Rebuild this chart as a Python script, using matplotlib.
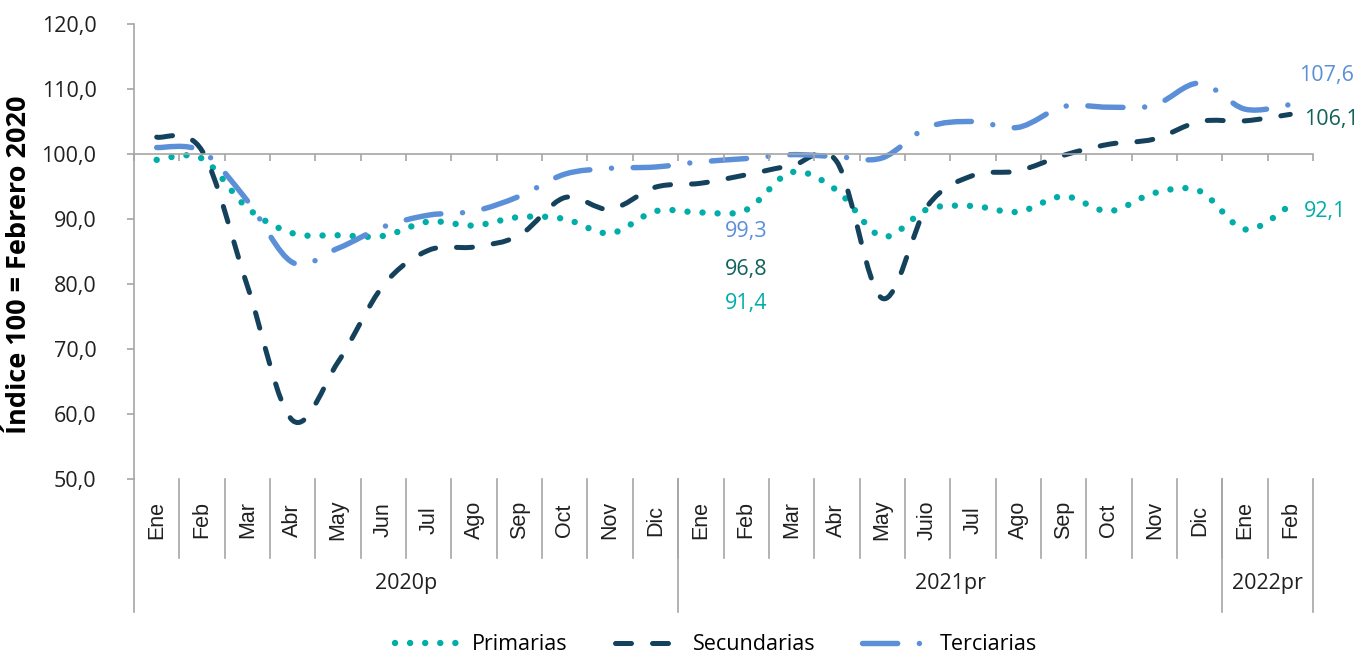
import numpy as np
import matplotlib
matplotlib.use('Agg')
import matplotlib.pyplot as plt
from matplotlib.path import Path
from matplotlib.patches import PathPatch
from matplotlib.lines import Line2D
import matplotlib.transforms as mtransforms

plt.rcParams['font.family'] = ['Open Sans', 'DejaVu Sans']

months = ['Ene', 'Feb', 'Mar', 'Abr', 'May', 'Jun', 'Jul', 'Ago', 'Sep', 'Oct', 'Nov', 'Dic',
          'Ene', 'Feb', 'Mar', 'Abr', 'May', 'Juio', 'Jul', 'Ago', 'Sep', 'Oct', 'Nov', 'Dic',
          'Ene', 'Feb']
years = ['2020p', '2021pr', '2022pr']
year_sizes = [12, 12, 2]

primarias = [99.1, 99.3, 91.7, 87.8, 87.5, 87.4, 89.6, 89.0, 90.3, 90.0, 87.8, 91.2,
             91.0, 91.4, 97.2, 94.4, 87.3, 91.5, 92.0, 91.1, 93.5, 91.2, 94.0, 94.3,
             88.4, 92.1]
secundarias = [102.6, 100.5, 79.7, 59.0, 68.0, 79.8, 85.2, 85.7, 87.5, 93.3, 91.5, 94.9,
               95.5, 96.8, 98.2, 98.8, 77.8, 92.0, 96.7, 97.4, 99.8, 101.5, 102.3, 105.0,
               105.1, 106.1]
terciarias = [101.0, 100.4, 92.8, 83.3, 85.5, 88.8, 90.6, 91.2, 93.5, 96.9, 97.8, 98.0,
              98.8, 99.3, 99.9, 99.6, 99.4, 104.1, 105.0, 104.1, 107.3, 107.2, 107.5, 110.9,
              106.9, 107.6]

c_prim = '#00ADA9'
c_sec = '#14425C'
c_ter = '#5B8FD8'
c_sec_lbl = '#11615D'
gray = '#A6A6A6'


def smooth_path(xs, ys):
    # bezier segments like excel's smoothed line
    pts = np.column_stack([xs, ys]).astype(float)
    n = len(pts)
    verts = [pts[0]]
    codes = [Path.MOVETO]
    for i in range(n - 1):
        p0 = pts[i - 1] if i > 0 else pts[i]
        p1 = pts[i]
        p2 = pts[i + 1]
        p3 = pts[i + 2] if i + 2 < n else pts[i + 1]
        verts += [p1 + (p2 - p0) / 6, p2 - (p3 - p1) / 6, p2]
        codes += [Path.CURVE4] * 3
    return Path(verts, codes)


fig = plt.figure(figsize=(13.61, 6.57), dpi=100)
ax = fig.add_axes([134 / 1361, 1 - 479 / 657, (1313 - 134) / 1361, (479 - 24) / 657])

x = np.arange(len(months))
styles = [
    (primarias, c_prim, 4.6, (0, (0.01, 2.35)), 'Primarias'),
    (secundarias, c_sec, 3.6, (0, (3.2, 4.2)), 'Secundarias'),
    (terciarias, c_ter, 3.9, (0, (6.5, 4.0, 0.01, 4.0)), 'Terciarias'),
]
handles = []
for vals, col, lw, ls, name in styles:
    p = PathPatch(smooth_path(x, vals), fill=False, edgecolor=col, lw=lw,
                  linestyle=ls, capstyle='round', joinstyle='round')
    ax.add_patch(p)
    h = Line2D([], [], color=col, lw=lw, linestyle=ls, dash_capstyle='round', label=name)
    handles.append(h)

ax.set_xlim(-0.5, len(months) - 0.5)
ax.set_ylim(50, 120)
ax.set_yticks(np.arange(50, 121, 10))
ax.set_yticklabels([f'{v:.1f}'.replace('.', ',') for v in np.arange(50, 121, 10)],
                   fontsize=15.5, color='#202020')
ax.tick_params(axis='y', length=5, width=1.2, color=gray, pad=22)

for s in ['top', 'right']:
    ax.spines[s].set_visible(False)
ax.spines['left'].set_color(gray)
ax.spines['left'].set_linewidth(1.2)
ax.spines['bottom'].set_position(('data', 100))
ax.spines['bottom'].set_color(gray)
ax.spines['bottom'].set_linewidth(1.2)
ax.set_xticks(np.arange(-0.5, len(months), 1))
ax.set_xticklabels([])
ax.tick_params(axis='x', length=5, width=1.2, color=gray, direction='out')

ax.set_ylabel('Índice 100 = Febrero 2020', fontsize=19.5, fontweight='bold')
ax.yaxis.set_label_coords((32 - 134) / 1179, (479 - 265) / 455)

# category axis at the bottom
trans = mtransforms.blended_transform_factory(ax.transData, fig.transFigure)
y_top = 1 - 479 / 657
y_mon = 1 - 558 / 657
y_yr = 1 - 612 / 657
for i, m in enumerate(months):
    ax.text(i, 1 - 520 / 657, m, transform=trans, rotation=90, ha='center', va='center',
            fontsize=15.5, family='Liberation Sans', color='#202020')
for b in range(1, len(months)):
    ax.add_line(Line2D([b - 0.5, b - 0.5], [y_top, y_mon], transform=trans,
                       color=gray, lw=1.2, clip_on=False))
start = 0
bounds = [-0.5]
for yname, size in zip(years, year_sizes):
    ax.text(start + size / 2 - 0.5, 1 - 584 / 657, yname, transform=trans,
            ha='center', va='center', fontsize=15.5, color='#202020')
    start += size
    bounds.append(start - 0.5)
for b in bounds:
    ax.add_line(Line2D([b, b], [y_top, y_yr], transform=trans,
                       color=gray, lw=1.2, clip_on=False))

# data labels
ax.text(13, 88.0, '99,3', color=c_ter, fontsize=15.5, ha='center', va='center')
ax.text(13, 82.3, '96,8', color=c_sec_lbl, fontsize=15.5, ha='center', va='center')
ax.text(13, 77.0, '91,4', color=c_prim, fontsize=15.5, ha='center', va='center')
ax.text(25.2, 112.1, '107,6', color=c_ter, fontsize=15.5, ha='left', va='center', clip_on=False)
ax.text(25.3, 105.3, '106,1', color=c_sec_lbl, fontsize=15.5, ha='left', va='center', clip_on=False)
ax.text(25.3, 91.2, '92,1', color=c_prim, fontsize=15.5, ha='left', va='center', clip_on=False)

fig.legend(handles=handles, loc='center', bbox_to_anchor=(0.526, 1 - 645 / 657), ncol=3,
           frameon=False, fontsize=15.5, handlelength=3.2, columnspacing=2.2, handletextpad=0.4)

fig.savefig('out.png', dpi=100)
